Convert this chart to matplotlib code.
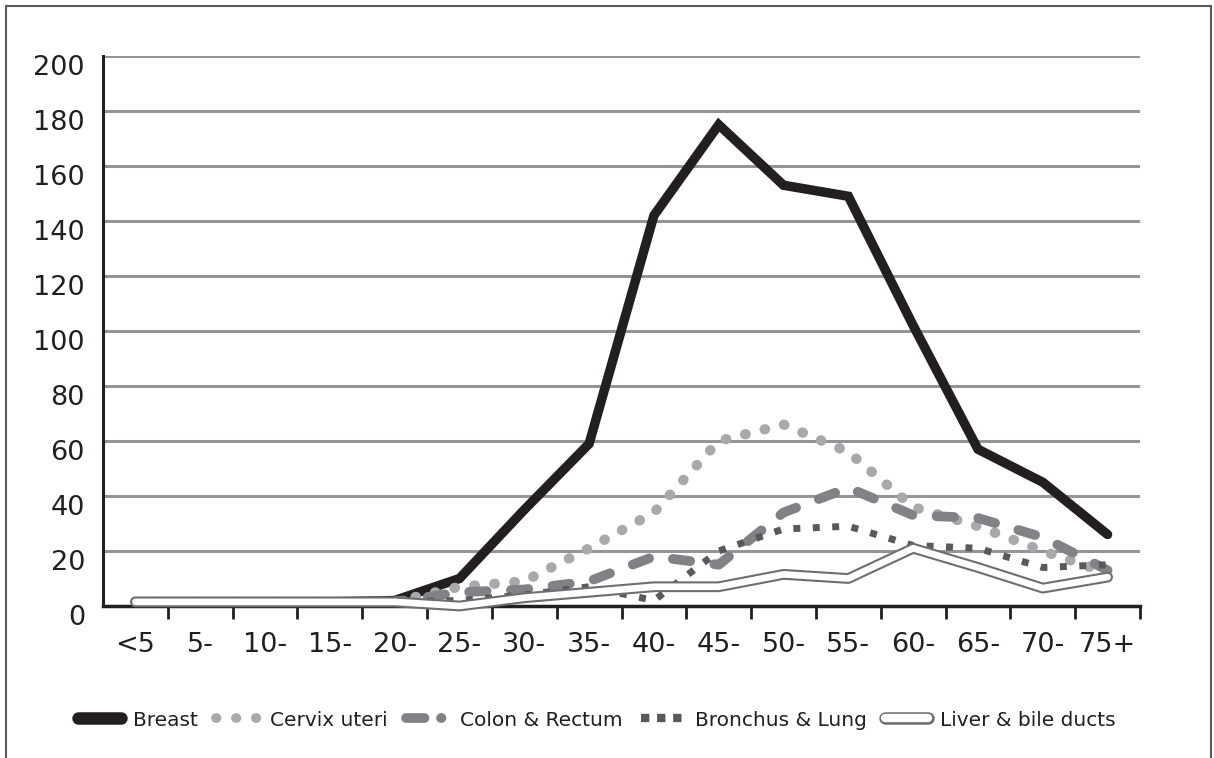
import matplotlib
matplotlib.use('Agg')
import matplotlib.pyplot as plt
from matplotlib.lines import Line2D
from matplotlib.legend_handler import HandlerTuple
import matplotlib.transforms as mtransforms
from matplotlib.patches import Rectangle

categories = ['<5', '5-', '10-', '15-', '20-', '25-', '30-', '35-', '40-', '45-',
              '50-', '55-', '60-', '65-', '70-', '75+']
breast = [1.5, 1.5, 1.5, 1.5, 2, 10, 35, 59, 142, 175, 153, 149, 102, 57, 45, 26]
cervix = [1.5, 1.5, 1.5, 1.5, 1.5, 7, 9, 21, 34, 60, 66, 56, 36, 29, 20, 12]
colon = [1.5, 1.5, 1.5, 1.5, 1.5, 5, 6, 9, 18, 15, 34, 43, 33, 32, 25, 13]
bronchus = [1.5, 1.5, 1.5, 1.5, 1.5, 2, 4, 7, 2, 20, 28, 29, 22, 21, 14, 15]
liver = [1.5, 1.5, 1.5, 1.5, 1.5, 0, 3, 5, 7, 7, 11.5, 10, 21, 14, 6.5, 10.5]
series_names = ['Breast', 'Cervix uteri', 'Colon & Rectum', 'Bronchus & Lung', 'Liver & bile ducts']
y_ticks = [0, 20, 40, 60, 80, 100, 120, 140, 160, 180, 200]

plt.rcParams['font.family'] = ['DejaVu Sans']
fig = plt.figure(figsize=(12.14, 7.58), dpi=100)
ax = fig.add_axes([103/1214, 152/758, 1037/1214, 550/758])

x = list(range(len(categories)))

c_breast = '#231f20'
c_cervix = '#a7a9ac'
c_colon = '#808285'
c_bron = '#58595b'
c_liver = '#6d6e71'

ax.plot(x, breast, color=c_breast, lw=6.8, solid_joinstyle='miter',
        solid_capstyle='round', clip_on=False, zorder=3)
ax.plot(x, cervix, color=c_cervix, lw=7.4, linestyle=(0, (0.05, 1.9)),
        dash_capstyle='round', clip_on=False, zorder=3)
ax.plot(x, colon, color=c_colon, lw=7, linestyle=(0, (1.8, 2.5)),
        dash_capstyle='round', clip_on=False, zorder=3)
ax.plot(x, bronchus, color=c_bron, lw=5, linestyle=(0, (1.0, 1.8)),
        dash_capstyle='butt', clip_on=False, zorder=3)
ax.plot(x, liver, color=c_liver, lw=7.8, solid_capstyle='round',
        clip_on=False, zorder=4)
ax.plot(x, liver, color='white', lw=4.8, solid_capstyle='round',
        clip_on=False, zorder=4)

ax.set_xlim(-0.5, len(categories) - 0.5)
ax.set_ylim(0, 200)
ax.set_yticks(y_ticks)
ax.yaxis.grid(True, color='#939598', lw=2.2)
ax.set_axisbelow(True)

for s in ['top', 'right']:
    ax.spines[s].set_visible(False)
ax.spines['left'].set_linewidth(2.2)
ax.spines['left'].set_color('#231f20')
ax.spines['bottom'].set_linewidth(2.5)
ax.spines['bottom'].set_color('#231f20')
ax.spines['bottom'].set_zorder(2)

ax.set_xticks([i + 0.5 for i in x])
ax.set_xticklabels([])
ax.set_xticks(x, minor=True)
ax.set_xticklabels(categories, minor=True, fontsize=19.5, color='#231f20')
ax.tick_params(axis='x', which='major', direction='out', length=9, width=2, color='#231f20')
ax.tick_params(axis='x', which='minor', length=0, pad=19)
ax.tick_params(axis='y', length=0, pad=13, labelsize=19.5, labelcolor='#231f20')

offset = mtransforms.ScaledTranslation(0, -9/100, fig.dpi_scale_trans)
for lab in ax.get_yticklabels():
    lab.set_transform(lab.get_transform() + offset)

# legend handles
h_breast = Line2D([], [], color=c_breast, lw=9, solid_capstyle='round')
h_cervix = Line2D([], [], color=c_cervix, lw=7, linestyle=(0, (0.05, 2.0)), dash_capstyle='round')
h_colon = Line2D([], [], color=c_colon, lw=7, linestyle=(0, (1.9, 1.7, 0.05, 3.0)), dash_capstyle='round')
h_bron = Line2D([], [], color=c_bron, lw=6, linestyle=(0, (1.0, 0.93)), dash_capstyle='butt')
h_liv1 = Line2D([], [], color=c_liver, lw=9, solid_capstyle='round')
h_liv2 = Line2D([], [], color='white', lw=6, solid_capstyle='round')

leg = fig.legend([h_breast, h_cervix, h_colon, h_bron, (h_liv1, h_liv2)], series_names,
                 handler_map={tuple: HandlerTuple(ndivide=1)},
                 loc='center', bbox_to_anchor=(597/1214, 1 - 720/758), ncol=5,
                 frameon=False, fontsize=14.5, handlelength=2.1, handletextpad=0.6,
                 columnspacing=0.9, labelcolor='#231f20')

fig.patches.append(Rectangle((6/1214, -0.05), 1205/1214, 1.05 - 6/758, transform=fig.transFigure,
                             fill=False, edgecolor='#595959', lw=1.5))

fig.savefig('out.png', dpi=100)
